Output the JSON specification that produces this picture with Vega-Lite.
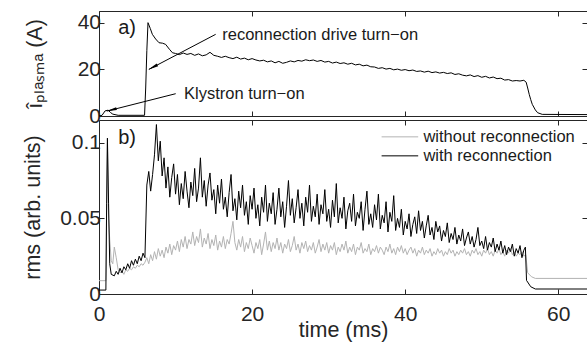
{
  "$schema": "https://vega.github.io/schema/vega-lite/v6.json",
  "padding": {"left": 22, "top": 10, "right": 0, "bottom": 0},
  "bounds": "flush",
  "config": {
    "font": "Liberation Sans",
    "view": {"stroke": "#262626", "strokeWidth": 1},
    "axis": {"grid": false, "domain": false, "tickColor": "#262626", "tickSize": -5, "tickWidth": 1, "labelColor": "#262626", "labelFontSize": 21, "titleFontSize": 21.5, "titleFontWeight": "normal", "titleColor": "#262626", "labelFlush": false, "labelOverlap": false},
    "text": {"font": "Liberation Sans", "color": "#1a1a1a"}
  },
  "resolve": {"scale": {"color": "independent"}, "legend": {"color": "independent"}},
  "datasets": {
    "ip": [
      {"t":0,"v":0},{"t":0.4,"v":0.3},{"t":0.8,"v":2.2},{"t":1.2,"v":2.5},{"t":1.5,"v":1.5},{"t":1.8,"v":0.8},{"t":2.5,"v":0.3},{"t":5.95,"v":0.3},
      {"t":6.1,"v":12},{"t":6.25,"v":28},{"t":6.4,"v":40},{"t":6.7,"v":37.5},{"t":6.97,"v":35},{"t":7.4,"v":33},{"t":7.84,"v":31.4},{"t":8.3,"v":31.2},{"t":8.7,"v":30.7},{"t":9.2,"v":28.6},{"t":9.6,"v":27.1},{"t":10,"v":26.8},{"t":10.5,"v":26.3},{"t":11,"v":27},{"t":11.5,"v":26.4},{"t":12,"v":26.8},{"t":12.5,"v":26},{"t":13,"v":26.6},{"t":13.5,"v":25.8},{"t":14,"v":26.2},{"t":14.5,"v":27.3},{"t":15,"v":26},{"t":15.5,"v":25.6},{"t":16,"v":25.1},{"t":16.5,"v":25.6},{"t":17,"v":25.0},{"t":17.5,"v":24.6},{"t":18,"v":25.2},{"t":18.5,"v":24.4},{"t":19,"v":24.8},{"t":19.5,"v":24.1},{"t":20,"v":24.6},{"t":20.5,"v":24.0},{"t":21,"v":23.6},{"t":21.5,"v":23.9},{"t":22,"v":23.2},{"t":22.5,"v":23.6},{"t":23,"v":22.8},{"t":23.5,"v":23.4},{"t":24,"v":22.6},{"t":24.5,"v":23.0},{"t":25,"v":23.6},{"t":25.5,"v":23.2},{"t":26,"v":23.8},{"t":26.5,"v":23.5},{"t":27,"v":24.1},{"t":27.5,"v":23.7},{"t":28,"v":24.0},{"t":28.5,"v":23.4},{"t":29,"v":23.8},{"t":29.5,"v":23.1},{"t":30,"v":23.4},{"t":30.5,"v":22.7},{"t":31,"v":23.1},{"t":31.5,"v":22.5},{"t":32,"v":22.8},{"t":32.5,"v":22.2},{"t":33,"v":22.6},{"t":33.5,"v":21.9},{"t":34,"v":22.2},{"t":34.5,"v":21.5},{"t":35,"v":21.8},{"t":35.5,"v":21.1},{"t":36,"v":21.0},{"t":36.5,"v":20.4},{"t":37,"v":20.7},{"t":37.5,"v":20.1},{"t":38,"v":20.4},{"t":38.5,"v":19.8},{"t":39,"v":20.1},{"t":39.5,"v":19.6},{"t":40,"v":19.9},{"t":40.5,"v":19.4},{"t":41,"v":19.7},{"t":41.5,"v":19.1},{"t":42,"v":19.3},{"t":42.5,"v":18.8},{"t":43,"v":19.2},{"t":43.5,"v":18.6},{"t":44,"v":18.9},{"t":44.5,"v":18.4},{"t":45,"v":18.7},{"t":45.5,"v":18.2},{"t":46,"v":18.5},{"t":46.5,"v":17.8},{"t":47,"v":18.1},{"t":47.5,"v":17.5},{"t":48,"v":17.2},{"t":48.5,"v":17.6},{"t":49,"v":16.9},{"t":49.5,"v":17.3},{"t":50,"v":16.6},{"t":50.5,"v":17.0},{"t":51,"v":16.3},{"t":51.5,"v":16.7},{"t":52,"v":16.0},{"t":52.5,"v":16.2},{"t":53,"v":15.4},{"t":53.5,"v":15.6},{"t":54,"v":15.0},{"t":54.5,"v":15.2},{"t":55,"v":15.0},{"t":55.5,"v":15.3},{"t":55.8,"v":14.5},{"t":56.0,"v":12},{"t":56.2,"v":9.3},{"t":56.4,"v":7},{"t":56.6,"v":5},{"t":57,"v":2.6},{"t":57.3,"v":1.4},{"t":57.9,"v":0.7},{"t":63.75,"v":0.6}
    ],
    "wo": [
      {"t":0,"v":0.0088},{"t":0.9,"v":0.0088},{"t":1.0,"v":0.06},{"t":1.1,"v":0.1},{"t":1.25,"v":0.05},{"t":1.4,"v":0.036},{"t":1.6,"v":0.022},{"t":1.8,"v":0.02},{"t":2.0,"v":0.031},{"t":2.25,"v":0.024},{"t":2.5,"v":0.016},{"t":2.75,"v":0.014},{"t":3,"v":0.015},{"t":3.25,"v":0.013},{"t":3.5,"v":0.016},{"t":3.75,"v":0.015},{"t":4,"v":0.017},{"t":4.25,"v":0.016},{"t":4.5,"v":0.018},{"t":4.75,"v":0.017},{"t":5,"v":0.019},{"t":5.25,"v":0.018},{"t":5.5,"v":0.02},{"t":5.75,"v":0.019},{"t":6,"v":0.021},
      {"t":6.25,"v":0.024},{"t":6.5,"v":0.02},{"t":6.75,"v":0.026},{"t":7,"v":0.022},{"t":7.25,"v":0.028},{"t":7.5,"v":0.023},{"t":7.75,"v":0.03},{"t":8,"v":0.025},{"t":8.25,"v":0.029},{"t":8.5,"v":0.024},{"t":8.75,"v":0.031},{"t":9,"v":0.027},{"t":9.25,"v":0.033},{"t":9.5,"v":0.026},{"t":9.75,"v":0.032},{"t":10,"v":0.029},{"t":10.25,"v":0.035},{"t":10.5,"v":0.028},{"t":10.75,"v":0.036},{"t":11,"v":0.031},{"t":11.25,"v":0.038},{"t":11.5,"v":0.03},{"t":11.75,"v":0.036},{"t":12,"v":0.033},{"t":12.25,"v":0.041},{"t":12.5,"v":0.032},{"t":12.75,"v":0.038},{"t":13,"v":0.034},{"t":13.25,"v":0.043},{"t":13.5,"v":0.031},{"t":13.75,"v":0.037},{"t":14,"v":0.033},{"t":14.25,"v":0.04},{"t":14.5,"v":0.03},{"t":14.75,"v":0.036},{"t":15,"v":0.032},{"t":15.25,"v":0.039},{"t":15.5,"v":0.029},{"t":15.75,"v":0.035},{"t":16,"v":0.031},{"t":16.25,"v":0.038},{"t":16.5,"v":0.03},{"t":16.75,"v":0.036},{"t":17,"v":0.033},{"t":17.25,"v":0.04},{"t":17.5,"v":0.048},{"t":17.75,"v":0.034},{"t":18,"v":0.029},{"t":18.25,"v":0.036},{"t":18.5,"v":0.031},{"t":18.75,"v":0.038},{"t":19,"v":0.028},{"t":19.25,"v":0.034},{"t":19.5,"v":0.03},{"t":19.75,"v":0.037},{"t":20,"v":0.032},{"t":20.25,"v":0.027},{"t":20.5,"v":0.034},{"t":20.75,"v":0.03},{"t":21,"v":0.036},{"t":21.25,"v":0.026},{"t":21.5,"v":0.033},{"t":21.75,"v":0.041},{"t":22,"v":0.029},{"t":22.25,"v":0.035},{"t":22.5,"v":0.028},{"t":22.75,"v":0.034},{"t":23,"v":0.03},{"t":23.25,"v":0.037},{"t":23.5,"v":0.029},{"t":23.75,"v":0.034},{"t":24,"v":0.027},{"t":24.25,"v":0.033},{"t":24.5,"v":0.03},{"t":24.75,"v":0.036},{"t":25,"v":0.028},{"t":25.25,"v":0.032},{"t":25.5,"v":0.038},{"t":25.75,"v":0.029},{"t":26,"v":0.033},{"t":26.25,"v":0.027},{"t":26.5,"v":0.034},{"t":26.75,"v":0.03},{"t":27,"v":0.035},{"t":27.25,"v":0.028},{"t":27.5,"v":0.032},{"t":27.75,"v":0.029},{"t":28,"v":0.034},{"t":28.25,"v":0.027},{"t":28.5,"v":0.031},{"t":28.75,"v":0.036},{"t":29,"v":0.028},{"t":29.25,"v":0.033},{"t":29.5,"v":0.029},{"t":29.75,"v":0.034},{"t":30,"v":0.027},{"t":30.25,"v":0.032},{"t":30.5,"v":0.029},{"t":30.75,"v":0.034},{"t":31,"v":0.026},{"t":31.25,"v":0.031},{"t":31.5,"v":0.028},{"t":31.75,"v":0.033},{"t":32,"v":0.029},{"t":32.25,"v":0.035},{"t":32.5,"v":0.027},{"t":32.75,"v":0.031},{"t":33,"v":0.028},{"t":33.25,"v":0.033},{"t":33.5,"v":0.026},{"t":33.75,"v":0.031},{"t":34,"v":0.029},{"t":34.25,"v":0.034},{"t":34.5,"v":0.027},{"t":34.75,"v":0.03},{"t":35,"v":0.028},{"t":35.25,"v":0.033},{"t":35.5,"v":0.026},{"t":35.75,"v":0.03},{"t":36,"v":0.028},{"t":36.25,"v":0.032},{"t":36.5,"v":0.027},{"t":36.75,"v":0.031},{"t":37,"v":0.029},{"t":37.25,"v":0.026},{"t":37.5,"v":0.031},{"t":37.75,"v":0.028},{"t":38,"v":0.033},{"t":38.25,"v":0.027},{"t":38.5,"v":0.03},{"t":38.75,"v":0.026},{"t":39,"v":0.031},{"t":39.25,"v":0.028},{"t":39.5,"v":0.032},{"t":39.75,"v":0.027},{"t":40,"v":0.03},{"t":40.25,"v":0.026},{"t":40.5,"v":0.029},{"t":40.75,"v":0.031},{"t":41,"v":0.027},{"t":41.25,"v":0.03},{"t":41.5,"v":0.025},{"t":41.75,"v":0.029},{"t":42,"v":0.027},{"t":42.25,"v":0.031},{"t":42.5,"v":0.026},{"t":42.75,"v":0.029},{"t":43,"v":0.027},{"t":43.25,"v":0.03},{"t":43.5,"v":0.025},{"t":43.75,"v":0.028},{"t":44,"v":0.026},{"t":44.25,"v":0.03},{"t":44.5,"v":0.027},{"t":44.75,"v":0.029},{"t":45,"v":0.025},{"t":45.25,"v":0.028},{"t":45.5,"v":0.026},{"t":45.75,"v":0.03},{"t":46,"v":0.027},{"t":46.25,"v":0.029},{"t":46.5,"v":0.025},{"t":46.75,"v":0.028},{"t":47,"v":0.026},{"t":47.25,"v":0.029},{"t":47.5,"v":0.027},{"t":47.75,"v":0.03},{"t":48,"v":0.026},{"t":48.25,"v":0.028},{"t":48.5,"v":0.025},{"t":48.75,"v":0.029},{"t":49,"v":0.027},{"t":49.25,"v":0.03},{"t":49.5,"v":0.026},{"t":49.75,"v":0.028},{"t":50,"v":0.025},{"t":50.25,"v":0.029},{"t":50.5,"v":0.027},{"t":50.75,"v":0.03},{"t":51,"v":0.026},{"t":51.25,"v":0.028},{"t":51.5,"v":0.025},{"t":51.75,"v":0.029},{"t":52,"v":0.027},{"t":52.25,"v":0.03},{"t":52.5,"v":0.026},{"t":52.75,"v":0.028},{"t":53,"v":0.025},{"t":53.25,"v":0.029},{"t":53.5,"v":0.027},{"t":53.75,"v":0.03},{"t":54,"v":0.026},{"t":54.25,"v":0.028},{"t":54.5,"v":0.025},{"t":54.75,"v":0.027},{"t":55,"v":0.026},{"t":55.25,"v":0.028},{"t":55.5,"v":0.025},{"t":55.75,"v":0.026},{"t":56,"v":0.014},{"t":56.5,"v":0.0114},{"t":57,"v":0.0103},{"t":63.75,"v":0.0103}
    ],
    "wi": [
      {"t":0,"v":0.0026},{"t":0.9,"v":0.0026},{"t":1.0,"v":0.06},{"t":1.1,"v":0.103},{"t":1.25,"v":0.06},{"t":1.4,"v":0.02},{"t":1.6,"v":0.013},{"t":2,"v":0.012},{"t":2.25,"v":0.015},{"t":2.5,"v":0.013},{"t":2.75,"v":0.017},{"t":3,"v":0.014},{"t":3.25,"v":0.018},{"t":3.5,"v":0.016},{"t":3.75,"v":0.02},{"t":4,"v":0.017},{"t":4.25,"v":0.022},{"t":4.5,"v":0.019},{"t":4.75,"v":0.023},{"t":5,"v":0.02},{"t":5.25,"v":0.025},{"t":5.5,"v":0.022},{"t":5.75,"v":0.027},{"t":6,"v":0.024},
      {"t":6.25,"v":0.072},{"t":6.5,"v":0.081},{"t":6.75,"v":0.068},{"t":7,"v":0.079},{"t":7.25,"v":0.092},{"t":7.5,"v":0.112},{"t":7.75,"v":0.088},{"t":8,"v":0.101},{"t":8.25,"v":0.078},{"t":8.5,"v":0.09},{"t":8.75,"v":0.07},{"t":9,"v":0.084},{"t":9.25,"v":0.064},{"t":9.5,"v":0.077},{"t":9.75,"v":0.086},{"t":10,"v":0.066},{"t":10.25,"v":0.079},{"t":10.5,"v":0.059},{"t":10.75,"v":0.073},{"t":11,"v":0.063},{"t":11.25,"v":0.081},{"t":11.5,"v":0.068},{"t":11.75,"v":0.057},{"t":12,"v":0.074},{"t":12.25,"v":0.065},{"t":12.5,"v":0.083},{"t":12.75,"v":0.061},{"t":13,"v":0.07},{"t":13.25,"v":0.09},{"t":13.5,"v":0.064},{"t":13.75,"v":0.075},{"t":14,"v":0.058},{"t":14.25,"v":0.072},{"t":14.5,"v":0.08},{"t":14.75,"v":0.062},{"t":15,"v":0.069},{"t":15.25,"v":0.053},{"t":15.5,"v":0.072},{"t":15.75,"v":0.06},{"t":16,"v":0.076},{"t":16.25,"v":0.056},{"t":16.5,"v":0.064},{"t":16.75,"v":0.051},{"t":17,"v":0.067},{"t":17.25,"v":0.079},{"t":17.5,"v":0.055},{"t":17.75,"v":0.063},{"t":18,"v":0.049},{"t":18.25,"v":0.068},{"t":18.5,"v":0.057},{"t":18.75,"v":0.072},{"t":19,"v":0.052},{"t":19.25,"v":0.061},{"t":19.5,"v":0.046},{"t":19.75,"v":0.065},{"t":20,"v":0.056},{"t":20.25,"v":0.07},{"t":20.5,"v":0.05},{"t":20.75,"v":0.059},{"t":21,"v":0.045},{"t":21.25,"v":0.064},{"t":21.5,"v":0.054},{"t":21.75,"v":0.072},{"t":22,"v":0.048},{"t":22.25,"v":0.06},{"t":22.5,"v":0.053},{"t":22.75,"v":0.067},{"t":23,"v":0.046},{"t":23.25,"v":0.056},{"t":23.5,"v":0.07},{"t":23.75,"v":0.051},{"t":24,"v":0.061},{"t":24.25,"v":0.044},{"t":24.5,"v":0.058},{"t":24.75,"v":0.075},{"t":25,"v":0.052},{"t":25.25,"v":0.063},{"t":25.5,"v":0.047},{"t":25.75,"v":0.057},{"t":26,"v":0.069},{"t":26.25,"v":0.05},{"t":26.5,"v":0.06},{"t":26.75,"v":0.045},{"t":27,"v":0.064},{"t":27.25,"v":0.054},{"t":27.5,"v":0.072},{"t":27.75,"v":0.048},{"t":28,"v":0.058},{"t":28.25,"v":0.051},{"t":28.5,"v":0.066},{"t":28.75,"v":0.046},{"t":29,"v":0.059},{"t":29.25,"v":0.053},{"t":29.5,"v":0.069},{"t":29.75,"v":0.048},{"t":30,"v":0.056},{"t":30.25,"v":0.044},{"t":30.5,"v":0.062},{"t":30.75,"v":0.051},{"t":31,"v":0.073},{"t":31.25,"v":0.047},{"t":31.5,"v":0.057},{"t":31.75,"v":0.05},{"t":32,"v":0.064},{"t":32.25,"v":0.043},{"t":32.5,"v":0.055},{"t":32.75,"v":0.06},{"t":33,"v":0.048},{"t":33.25,"v":0.066},{"t":33.5,"v":0.045},{"t":33.75,"v":0.054},{"t":34,"v":0.05},{"t":34.25,"v":0.061},{"t":34.5,"v":0.042},{"t":34.75,"v":0.056},{"t":35,"v":0.068},{"t":35.25,"v":0.046},{"t":35.5,"v":0.053},{"t":35.75,"v":0.044},{"t":36,"v":0.059},{"t":36.25,"v":0.049},{"t":36.5,"v":0.066},{"t":36.75,"v":0.043},{"t":37,"v":0.052},{"t":37.25,"v":0.047},{"t":37.5,"v":0.061},{"t":37.75,"v":0.041},{"t":38,"v":0.054},{"t":38.25,"v":0.048},{"t":38.5,"v":0.065},{"t":38.75,"v":0.042},{"t":39,"v":0.05},{"t":39.25,"v":0.044},{"t":39.5,"v":0.056},{"t":39.75,"v":0.039},{"t":40,"v":0.048},{"t":40.25,"v":0.043},{"t":40.5,"v":0.053},{"t":40.75,"v":0.038},{"t":41,"v":0.046},{"t":41.25,"v":0.051},{"t":41.5,"v":0.04},{"t":41.75,"v":0.055},{"t":42,"v":0.042},{"t":42.25,"v":0.048},{"t":42.5,"v":0.037},{"t":42.75,"v":0.045},{"t":43,"v":0.052},{"t":43.25,"v":0.039},{"t":43.5,"v":0.044},{"t":43.75,"v":0.036},{"t":44,"v":0.048},{"t":44.25,"v":0.041},{"t":44.5,"v":0.045},{"t":44.75,"v":0.035},{"t":45,"v":0.042},{"t":45.25,"v":0.038},{"t":45.5,"v":0.047},{"t":45.75,"v":0.034},{"t":46,"v":0.04},{"t":46.25,"v":0.036},{"t":46.5,"v":0.044},{"t":46.75,"v":0.033},{"t":47,"v":0.039},{"t":47.25,"v":0.035},{"t":47.5,"v":0.043},{"t":47.75,"v":0.032},{"t":48,"v":0.037},{"t":48.25,"v":0.041},{"t":48.5,"v":0.033},{"t":48.75,"v":0.038},{"t":49,"v":0.031},{"t":49.25,"v":0.036},{"t":49.5,"v":0.044},{"t":49.75,"v":0.032},{"t":50,"v":0.035},{"t":50.25,"v":0.03},{"t":50.5,"v":0.038},{"t":50.75,"v":0.029},{"t":51,"v":0.034},{"t":51.25,"v":0.031},{"t":51.5,"v":0.037},{"t":51.75,"v":0.028},{"t":52,"v":0.033},{"t":52.25,"v":0.029},{"t":52.5,"v":0.035},{"t":52.75,"v":0.027},{"t":53,"v":0.032},{"t":53.25,"v":0.026},{"t":53.5,"v":0.031},{"t":53.75,"v":0.028},{"t":54,"v":0.033},{"t":54.25,"v":0.025},{"t":54.5,"v":0.03},{"t":54.75,"v":0.027},{"t":55,"v":0.032},{"t":55.25,"v":0.024},{"t":55.5,"v":0.029},{"t":55.7,"v":0.031},{"t":55.85,"v":0.009},{"t":56.4,"v":0.0048},{"t":57,"v":0.0033},{"t":63.75,"v":0.0033}
    ]
  },
  "vconcat": [
    {
      "width": 488,
      "height": 105,
      "resolve": {"axis": {"x": "independent", "y": "independent"}},
      "layer": [
        {
          "data": {"name": "ip"},
          "mark": {"type": "line", "color": "#000000", "strokeWidth": 1},
          "encoding": {
            "x": {"field": "t", "type": "quantitative", "scale": {"domain": [0, 63.75], "nice": false}, "axis": {"values": [0, 20, 40, 60], "labels": false, "title": null, "orient": "bottom"}},
            "y": {"field": "v", "type": "quantitative", "scale": {"domain": [0, 45], "nice": false}, "axis": {"orient": "left", "values": [0, 20, 40], "labelPadding": 3.5, "title": "îₚₗₐₛₘₐ (A)", "titlePadding": 31}}
          }
        },
        {
          "data": {"values": [{"t": 15.24, "v": 35.0, "t2": 6.53, "v2": 20.0}, {"t": 10.02, "v": 9.56, "t2": 1.08, "v2": 2.14}]},
          "mark": {"type": "rule", "color": "#000000", "strokeWidth": 1},
          "encoding": {
            "x": {"field": "t", "type": "quantitative", "axis": null},
            "y": {"field": "v", "type": "quantitative", "axis": null},
            "x2": {"field": "t2"},
            "y2": {"field": "v2"}
          }
        },
        {
          "data": {"values": [{"t": 7.22, "v": 21.2}]},
          "mark": {"type": "point", "shape": "wedge", "size": 150, "angle": 242.3, "filled": true, "color": "#000000", "opacity": 1},
          "encoding": {"x": {"field": "t", "type": "quantitative", "axis": null}, "y": {"field": "v", "type": "quantitative", "axis": null}}
        },
        {
          "data": {"values": [{"t": 1.84, "v": 2.79}]},
          "mark": {"type": "point", "shape": "wedge", "size": 150, "angle": 255.8, "filled": true, "color": "#000000", "opacity": 1},
          "encoding": {"x": {"field": "t", "type": "quantitative", "axis": null}, "y": {"field": "v", "type": "quantitative", "axis": null}}
        },
        {
          "data": {"values": [{"t": 16.1, "v": 34.7, "label": "reconnection drive turn−on"}, {"t": 11.1, "v": 9.3, "label": "Klystron turn−on"}]},
          "mark": {"type": "text", "align": "left", "baseline": "middle", "fontSize": 16.5},
          "encoding": {
            "x": {"field": "t", "type": "quantitative", "axis": null},
            "y": {"field": "v", "type": "quantitative", "axis": null},
            "text": {"field": "label"}
          }
        },
        {
          "data": {"values": [{"t": 2.5, "v": 37.8, "label": "a)"}]},
          "mark": {"type": "text", "align": "left", "baseline": "middle", "fontSize": 20},
          "encoding": {
            "x": {"field": "t", "type": "quantitative", "axis": {"orient": "top", "values": [0, 20, 40, 60], "labels": false, "title": null}},
            "y": {"field": "v", "type": "quantitative", "axis": {"orient": "right", "values": [0, 20, 40], "labels": false, "title": null}},
            "text": {"field": "label"}
          }
        }
      ]
    },
    {
      "width": 488,
      "height": 174,
      "resolve": {"axis": {"x": "independent", "y": "independent"}},
      "layer": [
        {
          "data": {"name": "wo"},
          "mark": {"type": "line", "strokeWidth": 1},
          "encoding": {
            "x": {"field": "t", "type": "quantitative", "scale": {"domain": [0, 63.75], "nice": false}, "axis": {"orient": "bottom", "values": [0, 20, 40, 60], "labelPadding": 14.5, "title": "time (ms)", "titlePadding": -5}},
            "y": {"field": "v", "type": "quantitative", "scale": {"domain": [0, 0.115], "nice": false}, "axis": {"orient": "left", "values": [0, 0.05, 0.1], "format": "~g", "labelPadding": 3.5, "title": "rms (arb. units)", "titlePadding": 15}},
            "color": {"datum": "without reconnection", "type": "nominal", "scale": {"domain": ["without reconnection", "with reconnection"], "range": ["#b3b3b3", "#000000"]}, "legend": {"orient": "none", "legendX": 290.9, "legendY": 6.85, "title": null, "symbolType": "M-2,0H2", "symbolSize": 335, "symbolStrokeWidth": 1, "labelFontSize": 16.5, "labelOffset": 13.5, "rowPadding": 0, "padding": 0, "labelColor": "#1a1a1a"}}
          }
        },
        {
          "data": {"name": "wi"},
          "mark": {"type": "line", "strokeWidth": 1},
          "encoding": {
            "x": {"field": "t", "type": "quantitative", "axis": null},
            "y": {"field": "v", "type": "quantitative", "axis": null},
            "color": {"datum": "with reconnection", "type": "nominal"}
          }
        },
        {
          "data": {"values": [{"t": 2.5, "v": 0.1028, "label": "b)"}]},
          "mark": {"type": "text", "align": "left", "baseline": "middle", "fontSize": 20},
          "encoding": {
            "x": {"field": "t", "type": "quantitative", "axis": {"orient": "top", "values": [0, 20, 40, 60], "labels": false, "title": null}},
            "y": {"field": "v", "type": "quantitative", "axis": {"orient": "right", "values": [0, 0.05, 0.1], "labels": false, "title": null}},
            "text": {"field": "label"}
          }
        }
      ]
    }
  ],
  "spacing": 4
}
